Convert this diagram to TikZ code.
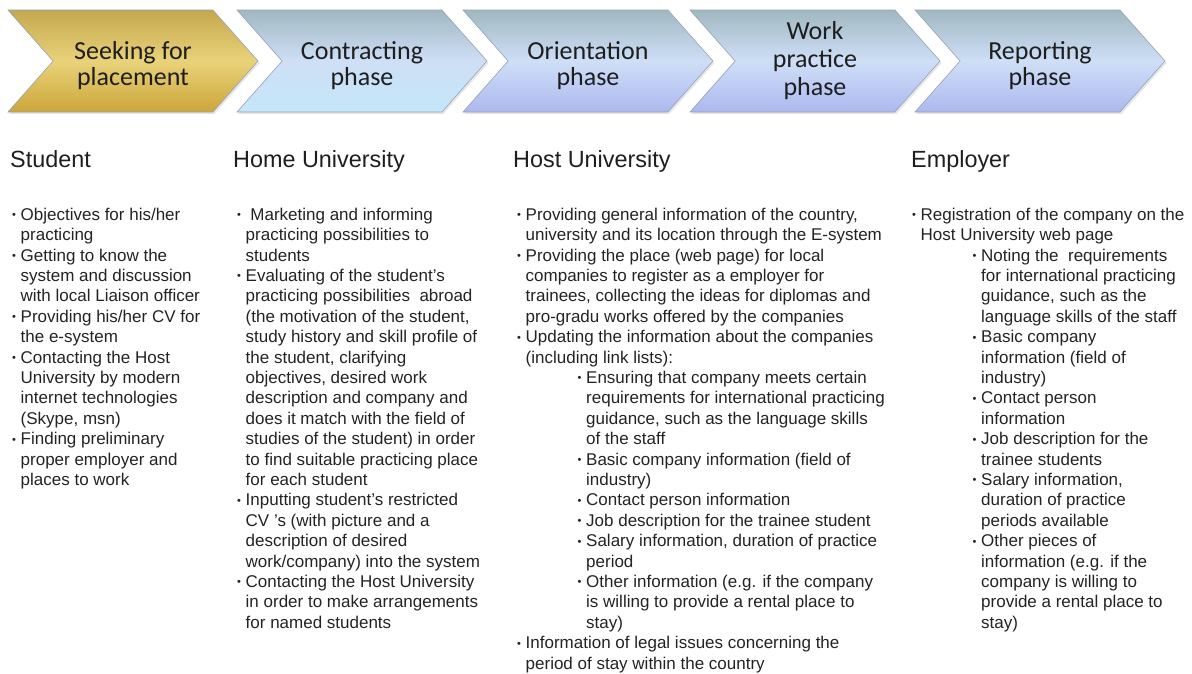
\documentclass[tikz,border=0pt]{standalone}
\usepackage{fontspec}
\setmainfont{Liberation Sans}
\newfontfamily\chevfont{Carlito}
\usetikzlibrary{shapes.symbols,shadows}

\definecolor{goldtop}{RGB}{196,168,78}
\definecolor{goldmid}{RGB}{233,210,122}
\definecolor{goldbot}{RGB}{204,166,58}
\definecolor{bluetop}{RGB}{160,184,194}
\definecolor{bluemid}{RGB}{206,223,246}
\definecolor{bluebot}{RGB}{172,184,240}
\definecolor{cyanbot}{RGB}{196,230,248}
\definecolor{chevline}{RGB}{150,162,178}
\definecolor{chevtext}{RGB}{30,30,30}
\definecolor{bodytext}{RGB}{35,35,35}

\newcommand{\itm}{\rule{0pt}{13pt}\makebox[8.5pt][l]{\raisebox{1.5pt}{\fontsize{11pt}{11pt}\selectfont\textbullet}}}
\newcommand{\cnt}{\hspace*{8.5pt}}
\newcommand{\sitm}{\hspace*{60.5pt}\itm}
\newcommand{\scnt}{\hspace*{69pt}}
\newcommand{\chevtop}{\rule{0pt}{27pt}}

\tikzset{
  phase/.style={signal, signal from=west, signal to=east, signal pointer angle=97,
    minimum width=250pt, minimum height=102pt, inner sep=0pt,
    draw=chevline, line width=0.6pt,
    top color=bluetop, bottom color=bluebot, middle color=bluemid,
    align=center, text=chevtext,
    font=\chevfont\fontsize{26pt}{26pt}\selectfont,
    drop shadow={opacity=0.2, shadow xshift=1.5pt, shadow yshift=-2pt}},
  goldphase/.style={top color=goldtop, bottom color=goldbot, middle color=goldmid},
  roletitle/.style={anchor=base west, inner sep=0pt, text=chevtext,
    font=\fontsize{23.4pt}{28pt}\selectfont},
  tasklist/.style={anchor=north west, inner sep=0pt, align=left, text=bodytext,
    font=\fontsize{17pt}{20.4pt}\selectfont}
}

\begin{document}
\begin{tikzpicture}[x=1pt, y=-1pt]
  \useasboundingbox (0,0) rectangle (1192,673);
  \begin{scope}[every node/.style={phase}]
    \node (seek)[goldphase] at (133,61) {\chevtop Seeking for\\placement};
    \node (contract)[bottom color=cyanbot, middle color=bluemid] at (362,61) {\chevtop Contracting\\phase};
    \node (orient) at (588,61) {\chevtop Orientation\\phase};
    \node (practice)[font=\chevfont\fontsize{26pt}{28pt}\selectfont] at (815,61) {Work\\practice\\phase};
    \node (report) at (1040,61) {\chevtop Reporting\\phase};
  \end{scope}

  \node (student)[roletitle] at (10,167) {Student};
  \node (home)[roletitle] at (233,167) {Home University};
  \node (host)[roletitle] at (513,167) {Host University};
  \node (employer)[roletitle] at (911,167) {Employer};

  \node (studenttasks)[tasklist] at (12,207) {%
    \itm Objectives for his/her\\
    \cnt practicing\\
    \itm Getting to know the\\
    \cnt system and discussion\\
    \cnt with local Liaison officer\\
    \itm Providing his/her CV for\\
    \cnt the e-system\\
    \itm Contacting the Host\\
    \cnt University by modern\\
    \cnt internet technologies\\
    \cnt (Skype, msn)\\
    \itm Finding preliminary\\
    \cnt proper employer and\\
    \cnt places to work};

  \node (hometasks)[tasklist] at (237,207) {%
    \itm\ Marketing and informing\\
    \cnt practicing possibilities to\\
    \cnt students\\
    \itm Evaluating of the student’s\\
    \cnt practicing possibilities\ \ abroad\\
    \cnt (the motivation of the student,\\
    \cnt study history and skill profile of\\
    \cnt the student, clarifying\\
    \cnt objectives, desired work\\
    \cnt description and company and\\
    \cnt does it match with the field of\\
    \cnt studies of the student) in order\\
    \cnt to find suitable practicing place\\
    \cnt for each student\\
    \itm Inputting student’s restricted\\
    \cnt CV ’s (with picture and a\\
    \cnt description of desired\\
    \cnt work/company) into the system\\
    \itm Contacting the Host University\\
    \cnt in order to make arrangements\\
    \cnt for named students};

  \node (hosttasks)[tasklist] at (517,207) {%
    \itm Providing general information of the country,\\
    \cnt university and its location through the E-system\\
    \itm Providing the place (web page) for local\\
    \cnt companies to register as a employer for\\
    \cnt trainees, collecting the ideas for diplomas and\\
    \cnt pro-gradu works offered by the companies\\
    \itm Updating the information about the companies\\
    \cnt (including link lists):\\
    \sitm Ensuring that company meets certain\\
    \scnt requirements for international practicing\\
    \scnt guidance, such as the language skills\\
    \scnt of the staff\\
    \sitm Basic company information (field of\\
    \scnt industry)\\
    \sitm Contact person information\\
    \sitm Job description for the trainee student\\
    \sitm Salary information, duration of practice\\
    \scnt period\\
    \sitm Other information (e.g. if the company\\
    \scnt is willing to provide a rental place to\\
    \scnt stay)\\
    \itm Information of legal issues concerning the\\
    \cnt period of stay within the country};

  \node (employertasks)[tasklist] at (912,207) {%
    \itm Registration of the company on the\\
    \cnt Host University web page\\
    \sitm Noting the\ \ requirements\\
    \scnt for international practicing\\
    \scnt guidance, such as the\\
    \scnt language skills of the staff\\
    \sitm Basic company\\
    \scnt information (field of\\
    \scnt industry)\\
    \sitm Contact person\\
    \scnt information\\
    \sitm Job description for the\\
    \scnt trainee students\\
    \sitm Salary information,\\
    \scnt duration of practice\\
    \scnt periods available\\
    \sitm Other pieces of\\
    \scnt information (e.g. if the\\
    \scnt company is willing to\\
    \scnt provide a rental place to\\
    \scnt stay)};
\end{tikzpicture}
\end{document}
